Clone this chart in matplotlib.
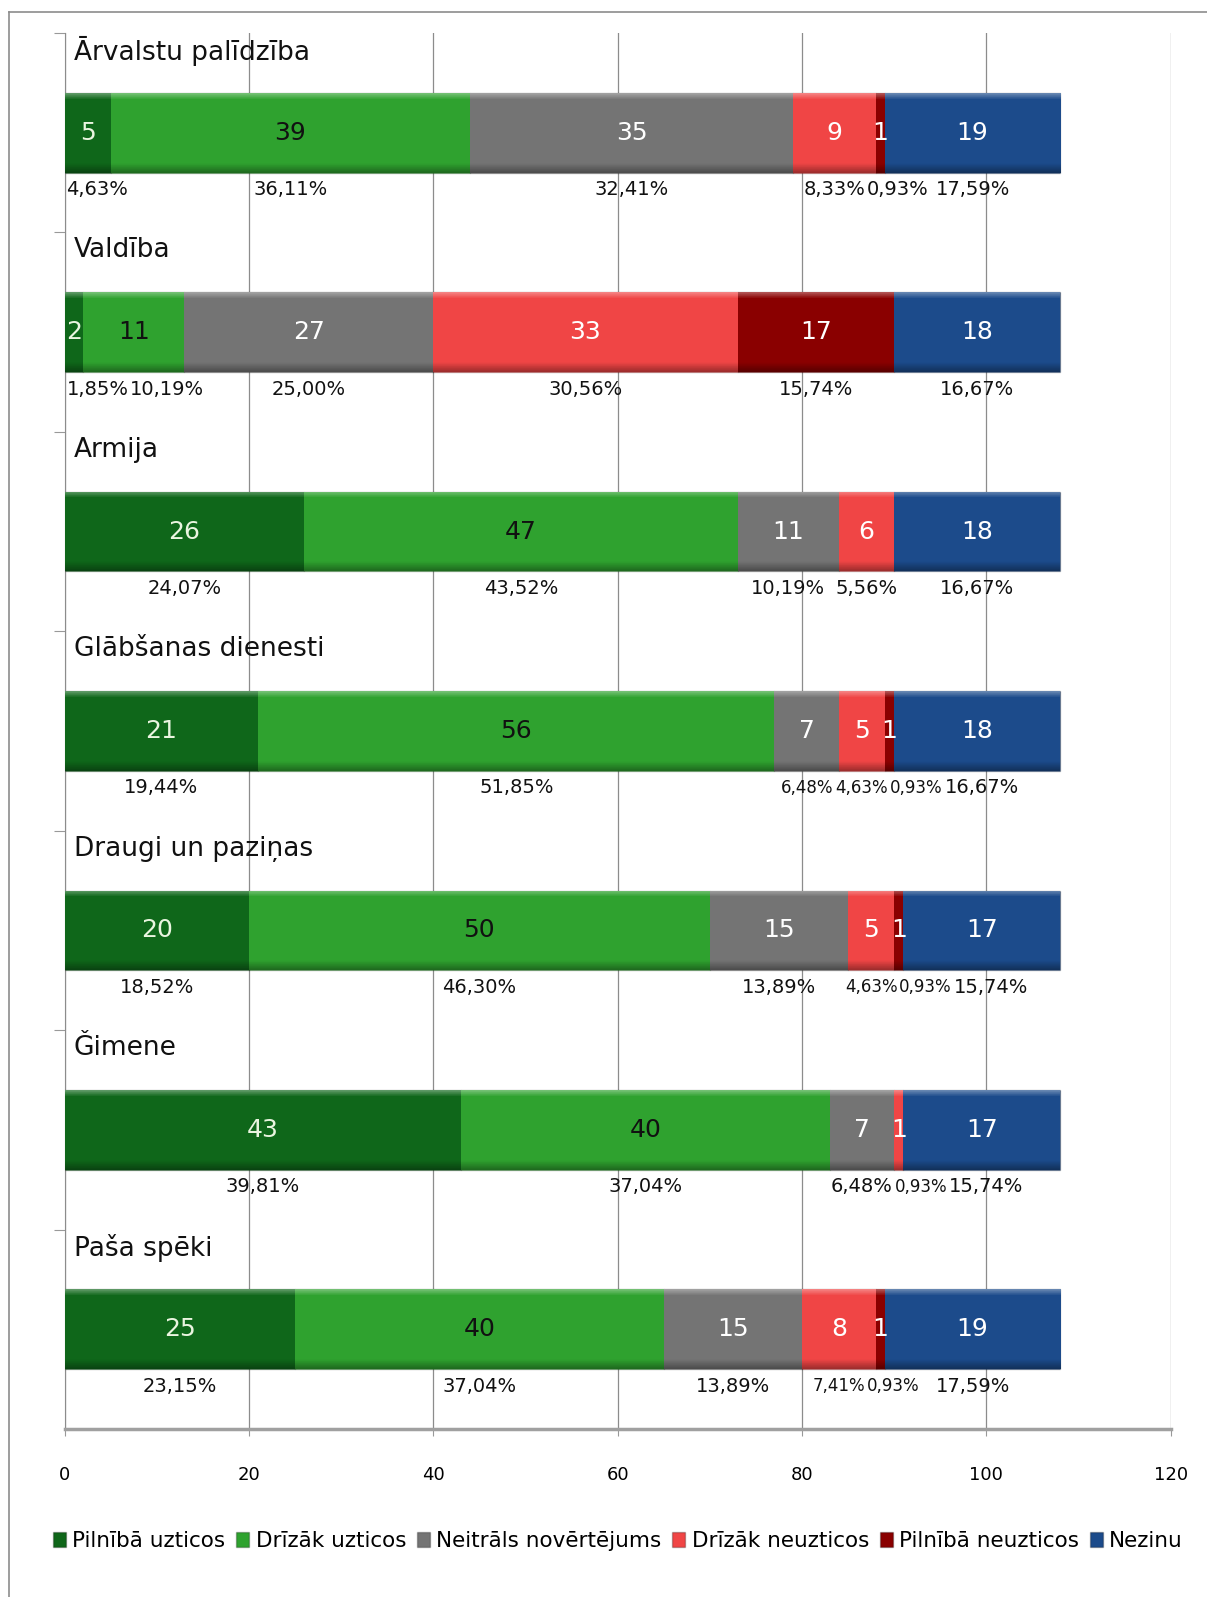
import matplotlib
matplotlib.use("Agg")
import matplotlib.pyplot as plt
from matplotlib.lines import Line2D
from matplotlib.colors import to_rgb
import numpy as np

# data
categories = ["Ārvalstu palīdzība", "Valdība", "Armija", "Glābšanas dienesti",
              "Draugi un paziņas", "Ǧimene", "Paša spēki"]
series_names = ["Pilnībā uzticos", "Drīzāk uzticos", "Neitrāls novērtējums",
                "Drīzāk neuzticos", "Pilnībā neuzticos", "Nezinu"]
pilniba_uzticos = [5, 2, 26, 21, 20, 43, 25]
drizak_uzticos = [39, 11, 47, 56, 50, 40, 40]
neitrals = [35, 27, 11, 7, 15, 7, 15]
drizak_neuzticos = [9, 33, 6, 5, 5, 1, 8]
pilniba_neuzticos = [1, 17, 0, 1, 1, 0, 1]
nezinu = [19, 18, 18, 18, 17, 17, 19]
x_ticks = [0, 20, 40, 60, 80, 100, 120]

colors = ["#0f671a", "#2fa22f", "#747474", "#f04545", "#8a0000", "#1c4b8b"]
value_colors = ["#eaf5e0", "#111111", "white", "white", "white", "white"]
# percent labels that Excel drew in a smaller font (row, series)
small_pct = {(3, 2), (3, 3), (3, 4), (4, 3), (4, 4), (5, 3), (6, 3), (6, 4)}

series = np.array([pilniba_uzticos, drizak_uzticos, neitrals,
                   drizak_neuzticos, pilniba_neuzticos, nezinu])
totals = series.sum(axis=0)


def bevel(color, n=200):
    # vertical shading: light top rim, flat middle, darker bottom rim
    base = np.array(to_rgb(color))
    t = np.linspace(0, 1, n)
    col = np.tile(base, (n, 1))
    top = t < 0.08
    col[top] = base + (1 - base) * 0.35 * (1 - t[top] / 0.08)[:, None]
    bot = t > 0.88
    col[bot] = base * (1 - 0.35 * ((t[bot] - 0.88) / 0.12))[:, None]
    return np.repeat(col[:, None, :], 4, axis=1)


fig = plt.figure(figsize=(12.07, 15.97), dpi=100)
ax = fig.add_axes([0.0535, 0.1052, 0.9165, 0.8741])

y = np.arange(len(categories))
left = np.zeros(len(categories))
for k in range(len(series_names)):
    vals = series[k]
    bars = ax.barh(y, vals, left=left, height=0.4, color=colors[k],
                   edgecolor="#00000040", linewidth=1.0, label=series_names[k], zorder=3)
    shade = bevel(colors[k])
    for p in bars.patches:
        if p.get_width() <= 0:
            continue
        im = ax.imshow(shade, aspect="auto", zorder=3.5, interpolation="nearest",
                       extent=(p.get_x(), p.get_x() + p.get_width(),
                               p.get_y() + p.get_height(), p.get_y()))
        im.set_clip_path(p)
    for i, v in enumerate(vals):
        if v > 0:
            ax.text(left[i] + v / 2, i, str(v), ha="center", va="center",
                    fontsize=18, color=value_colors[k], zorder=5)
    left = left + vals

ax.set_xlim(0, 120)
ax.set_ylim(len(categories) - 0.5, -0.5)
ax.set_aspect("auto")
ax.set_xticks(x_ticks)
ax.set_xticklabels([str(t) for t in x_ticks], fontsize=13)
ax.set_yticks(np.arange(-0.5, len(categories) - 1, 1))
ax.set_yticklabels([])
ax.tick_params(axis="x", length=5, pad=22, color="#999999")
ax.tick_params(axis="y", length=8, color="#999999", direction="out")
ax.grid(axis="x", color="#8c8c8c", linewidth=0.9, zorder=0)
ax.set_axisbelow(True)
for s in ["top", "right"]:
    ax.spines[s].set_visible(False)
ax.spines["left"].set_color("#8c8c8c")
ax.spines["bottom"].set_color("#a0a0a0")
ax.spines["bottom"].set_linewidth(2.5)

for i, name in enumerate(categories):
    ax.text(1.0, i - 0.41, name, ha="left", va="center", fontsize=19, color="#111111")

# percent labels under the bars, pushed right where they would overlap
fig.canvas.draw()
renderer = fig.canvas.get_renderer()
inv = ax.transData.inverted()
for i in range(len(categories)):
    start = 0.0
    prev_right = 0.0
    for k in range(len(series_names)):
        v = series[k][i]
        if v == 0:
            continue
        pct = "{:.2f}%".format(v / totals[i] * 100).replace(".", ",")
        size = 12 if (i, k) in small_pct else 14
        t = ax.text(start + v / 2, i + 0.285, pct, ha="center", va="center",
                    fontsize=size, color="#111111")
        bb = t.get_window_extent(renderer)
        w = inv.transform((bb.x1, 0))[0] - inv.transform((bb.x0, 0))[0]
        cx = start + v / 2
        lo = max(prev_right + 0.2, 0.0)
        if cx - w / 2 < lo:
            cx = lo + w / 2
        t.set_x(cx)
        prev_right = cx + w / 2
        start += v

fig.legend(loc="center", bbox_to_anchor=(0.512, 0.035), ncol=6, frameon=False,
           fontsize=15.5, handlelength=0.6, handleheight=0.7, handletextpad=0.3,
           columnspacing=0.5)

# outer frame of the chart object (only top and left are in view)
fig.add_artist(Line2D([0.0075, 1.0], [0.9925, 0.9925], color="#8c8c8c", linewidth=1.2))
fig.add_artist(Line2D([0.0075, 0.0075], [0.0, 0.9925], color="#8c8c8c", linewidth=1.2))

fig.savefig("out.png", dpi=100)
